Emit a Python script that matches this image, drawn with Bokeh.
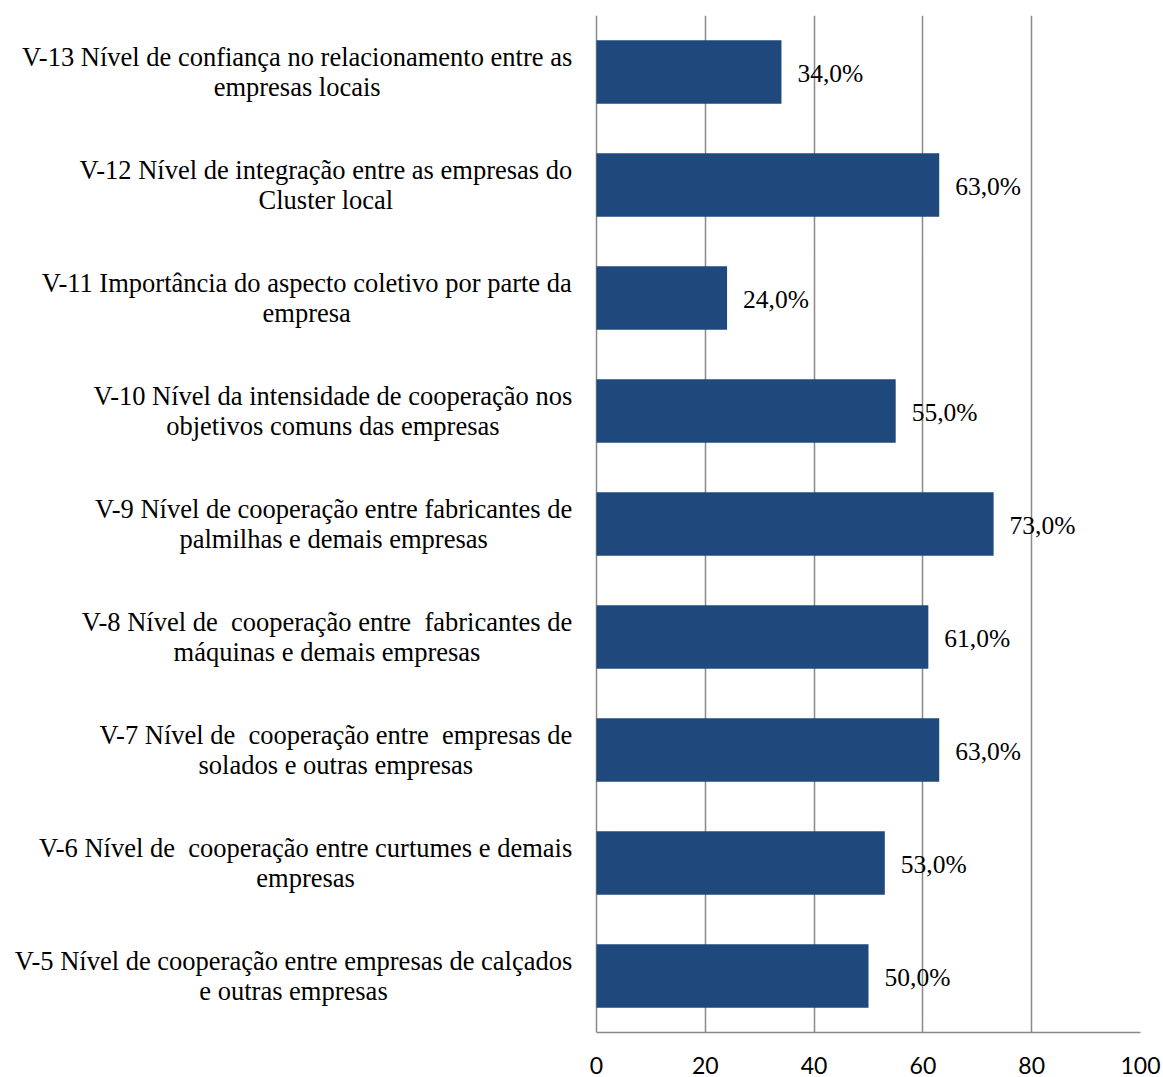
from bokeh.plotting import figure
from bokeh.models import ColumnDataSource, FactorRange, FixedTicker, Range1d
from bokeh.embed import file_html
from bokeh.resources import INLINE

# Data (bottom to top)
codes = ["V-5", "V-6", "V-7", "V-8", "V-9", "V-10", "V-11", "V-12", "V-13"]
line1 = [
    "V-5 Nível de cooperação entre empresas de calçados",
    "V-6 Nível de\u00a0 cooperação entre curtumes e demais",
    "V-7 Nível de\u00a0 cooperação entre\u00a0 empresas de",
    "V-8 Nível de\u00a0 cooperação entre\u00a0 fabricantes de",
    "V-9 Nível de cooperação entre fabricantes de",
    "V-10 Nível da intensidade de cooperação nos",
    "V-11 Importância do aspecto coletivo por parte da",
    "V-12 Nível de integração entre as empresas do",
    "V-13 Nível de confiança no relacionamento entre as",
]
line2 = [
    "e outras empresas",
    "empresas",
    "solados e outras empresas",
    "máquinas e demais empresas",
    "palmilhas e demais empresas",
    "objetivos comuns das empresas",
    "empresa",
    "Cluster local",
    "empresas locais",
]
values = [50, 53, 63, 61, 73, 55, 24, 63, 34]
value_text = ["50,0%", "53,0%", "63,0%", "61,0%", "73,0%", "55,0%", "24,0%", "63,0%", "34,0%"]
x_ticks = [0, 20, 40, 60, 80, 100]

# Times / Liberation Serif advance widths (1/1000 em) to center the second line under the first
TW = {" ": 250, "\u00a0": 250, "-": 333, "V": 722, "N": 722, "I": 333, "C": 667,
      "a": 444, "b": 500, "c": 444, "d": 500, "e": 444, "f": 333, "g": 500, "h": 500,
      "i": 278, "j": 278, "l": 278, "m": 778, "n": 500, "o": 500, "p": 500, "q": 500,
      "r": 333, "s": 389, "t": 278, "u": 500, "v": 500, "x": 500, "z": 444,
      "í": 278, "ç": 444, "ã": 444, "â": 444, "á": 444}
CAT_FS = 26.5
GAP = 23

def tw(s, fs):
    return sum(TW.get(ch, 500) for ch in s) * fs / 1000.0

cat_text = [a + "\n" + b for a, b in zip(line1, line2)]
cat_off = [-(GAP + tw(a, CAT_FS) / 2.0) for a in line1]

# layout: value axis occupies pixels 596..1140, labels live left of 0 inside the frame
PX_LEFT = 596
PX_PLOT = 544
X_MAX = 100
x_start = -PX_LEFT * X_MAX / PX_PLOT

source = ColumnDataSource(dict(code=codes, value=values, vtext=value_text))
csource = ColumnDataSource(dict(code=codes, x0=[0] * len(codes), text=cat_text, off=cat_off))

H = 1077
p = figure(
    width=1163, height=H,
    y_range=FactorRange(factors=codes, range_padding=0),
    x_range=Range1d(x_start, X_MAX),
    output_backend="svg", toolbar_location=None,
    min_border_left=0, min_border_right=1163 - PX_LEFT - PX_PLOT, min_border_top=15,
    min_border_bottom=H - 1032,
)
p.outline_line_color = None
p.background_fill_color = "white"
p.yaxis.visible = False

p.hbar(y="code", right="value", left=0, height=0.56, source=source,
       fill_color="#1F497D", line_color=None)

p.text(x="value", y="code", text="vtext", source=source,
       x_offset=16, y_offset=1, text_baseline="middle", text_align="left",
       text_font="Liberation Serif", text_font_size="25.5px", text_color="black")

p.text(x="x0", y="code", text="text", source=csource, x_offset="off",
       text_baseline="middle", text_align="center",
       text_font="Liberation Serif", text_font_size=f"{CAT_FS}px",
       text_color="black", text_line_height=1.02)

# x axis
p.xaxis.ticker = FixedTicker(ticks=x_ticks)
p.xaxis.bounds = (0, X_MAX)
p.xaxis.major_tick_out = 0
p.xaxis.major_tick_in = 0
p.xaxis.minor_tick_out = 0
p.xaxis.minor_tick_in = 0
p.xaxis.axis_line_color = "#898989"
p.xaxis.axis_line_width = 1.5
p.xaxis.major_label_text_font = "Lato"
p.xaxis.major_label_text_font_size = "23px"
p.xaxis.major_label_text_color = "black"
p.xaxis.major_label_standoff = 24

# grid
p.xgrid.grid_line_color = "#898989"
p.xgrid.grid_line_width = 1.5
p.ygrid.grid_line_color = None

open("out.html", "w").write(file_html(p, INLINE))
